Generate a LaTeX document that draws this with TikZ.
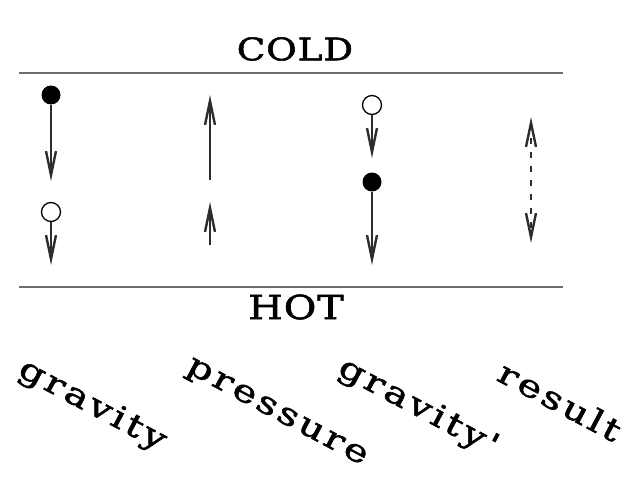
\documentclass[tikz,border=0pt]{standalone}
\usepackage{fontspec}
\usepackage{xcolor}
\usepackage{tikz}
\usetikzlibrary{arrows.meta}
\newfontfamily\zonefont[FakeStretch=1.2,FakeBold=1.8,LetterSpace=3]{DejaVu Serif}
\newfontfamily\forcefont[FakeStretch=1.3,FakeBold=1.8,LetterSpace=10]{DejaVu Serif}
\definecolor{wallc}{RGB}{110,110,110}
\definecolor{shaftc}{RGB}{45,45,45}

\begin{document}
\begin{tikzpicture}[x=1pt,y=-1pt,
  wall/.style={wallc,line width=2.8pt},
  tip/.tip={Straight Barb[length=24pt,width=10pt,line width=2.4pt]},
  force/.style={shaftc,line width=1.6pt,-tip},
  densedot/.style={circle,fill=black,inner sep=0pt,minimum size=19pt},
  lightdot/.style={circle,draw=black,fill=white,line width=1.3pt,inner sep=0pt,minimum size=19pt},
  zone/.style={font=\zonefont\fontsize{31}{31}\selectfont},
  tag/.style={font=\forcefont\fontsize{31}{31}\selectfont,rotate=-28}]
  \useasboundingbox (0,0) rectangle (644,487);
  % walls
  \coordinate (cl) at (19,73); \coordinate (cr) at (563,73);
  \coordinate (hl) at (19,287); \coordinate (hr) at (563,287);
  \draw[wall] (cl) -- (cr);
  \draw[wall] (hl) -- (hr);
  \node[zone] (cold) at (295,49) {COLD};
  \node[zone,font=\zonefont\fontsize{33}{33}\selectfont] (hot) at (296,307) {HOT};
  % gravity
  \node[densedot] (g1) at (51,95) {};
  \node[lightdot] (g2) at (51,212) {};
  \coordinate (g1t) at (51,181); \coordinate (g2t) at (51,265);
  \draw[force] (g1.south) -- (g1t);
  \draw[force] (g2.south) -- (g2t);
  % pressure
  \coordinate (p1s) at (210,180); \coordinate (p1t) at (210,95);
  \coordinate (p2s) at (210,245); \coordinate (p2t) at (210,202);
  \draw[force] (p1s) -- (p1t);
  \draw[force] (p2s) -- (p2t);
  % gravity'
  \node[lightdot] (q1) at (372,105) {};
  \node[densedot] (q2) at (372,182) {};
  \coordinate (q1t) at (372,158); \coordinate (q2t) at (372,265);
  \draw[force] (q1.south) -- (q1t);
  \draw[force] (q2.south) -- (q2t);
  % result
  \coordinate (rt) at (531,117); \coordinate (rb) at (531,243);
  \draw[force,line width=1.3pt,dash pattern=on 6pt off 8pt,tip-tip] (rt) -- (rb);
  % labels
  \node[tag] (lg1) at (92,406) {gravity};
  \node[tag] (lp) at (276,414) {pressure};
  \node[tag] (lg2) at (418,408) {gravity'};
  \node[tag] (lr) at (560,401) {result};
\end{tikzpicture}
\end{document}
